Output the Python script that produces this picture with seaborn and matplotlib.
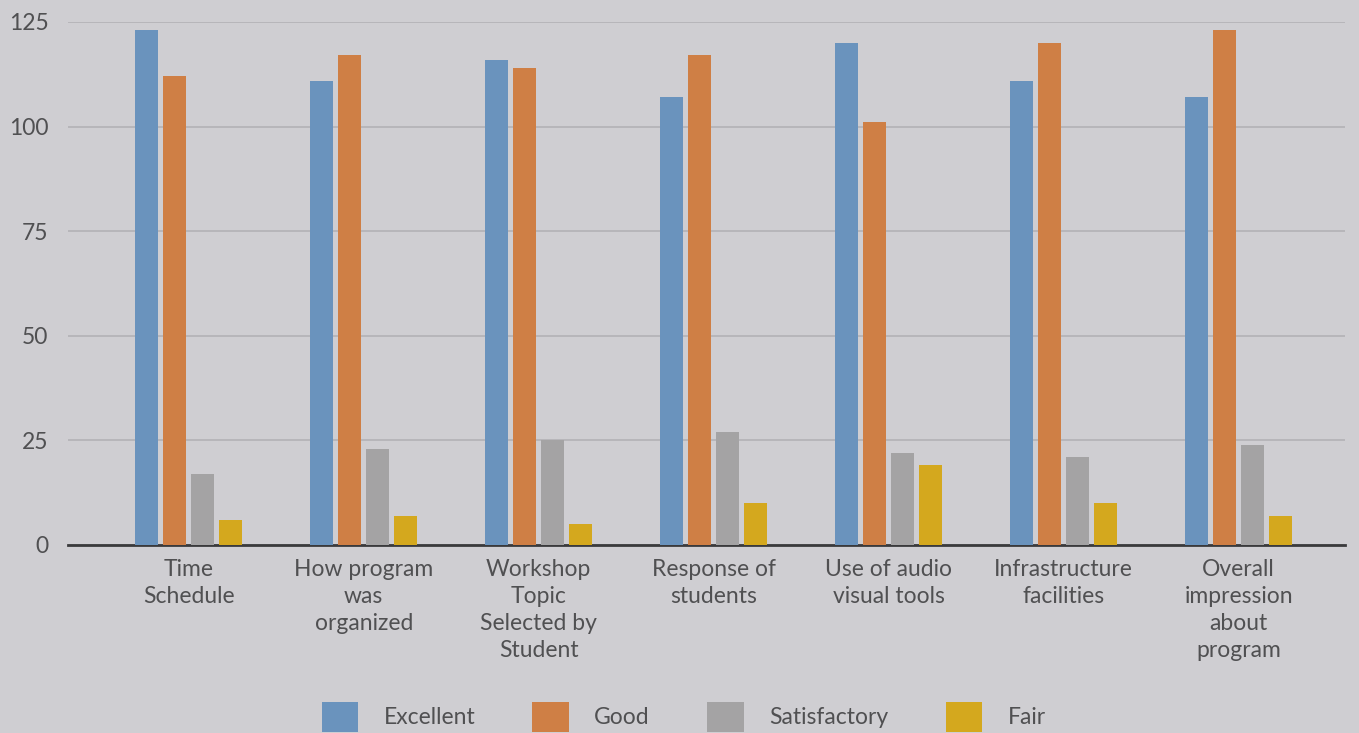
import matplotlib
matplotlib.use("Agg")
import matplotlib.pyplot as plt
import seaborn as sns
import pandas as pd

# Feedback counts per workshop aspect
categories = [
    "Time\nSchedule",
    "How program\nwas\norganized",
    "Workshop\nTopic\nSelected by\nStudent",
    "Response of\nstudents",
    "Use of audio\nvisual tools",
    "Infrastructure\nfacilities",
    "Overall\nimpression\nabout\nprogram",
]
excellent = [123, 111, 116, 107, 120, 111, 107]
good = [112, 117, 114, 117, 101, 120, 123]
satisfactory = [17, 23, 25, 27, 22, 21, 24]
fair = [6, 7, 5, 10, 19, 10, 7]
ratings = ["Excellent", "Good", "Satisfactory", "Fair"]
y_ticks = [0, 25, 50, 75, 100, 125]

colors = ["#6a93bd", "#cf7f45", "#a4a3a4", "#d4a81e"]
bg = "#cfced2"
text_col = "#505052"

df = pd.DataFrame({
    "category": categories * 4,
    "rating": [r for r in ratings for _ in categories],
    "value": excellent + good + satisfactory + fair,
})

sns.set_style("white")
plt.rcParams["font.family"] = ["Lato", "DejaVu Sans"]

fig = plt.figure(figsize=(13.59, 7.33), dpi=100, facecolor=bg)
ax = fig.add_axes([0.05, 0.2565, 0.94, 0.7135])
ax.set_facecolor(bg)

sns.barplot(data=df, x="category", y="value", hue="rating",
            hue_order=ratings, order=categories, palette=colors,
            width=0.64, gap=0.2, saturation=1, linewidth=0,
            ax=ax, zorder=3)

ax.set_ylim(0, 125)
ax.set_xlim(-0.69, 6.61)
ax.set_yticks(y_ticks)
ax.yaxis.grid(True, color="#b3b2b6", linewidth=1.2, zorder=0)
ax.set_xlabel("")
ax.set_ylabel("")
for side in ["top", "right", "left"]:
    ax.spines[side].set_visible(False)
ax.spines["bottom"].set_color("#3a3a3c")
ax.spines["bottom"].set_linewidth(2)
ax.tick_params(axis="both", length=0, labelsize=16.5, colors=text_col)
ax.tick_params(axis="x", pad=10)
ax.tick_params(axis="y", pad=14)
for lbl in ax.get_xticklabels():
    lbl.set_linespacing(1.35)
    lbl.set_verticalalignment("top")

handles, labels = ax.get_legend_handles_labels()
ax.legend_.remove()
fig.legend(handles, labels, loc="center", bbox_to_anchor=(0.503, 0.022),
           ncol=4, frameon=False, fontsize=16.5, labelcolor=text_col,
           handlelength=1.6, handleheight=1.6, handletextpad=1.1,
           columnspacing=2.5)

fig.savefig("out.png", dpi=100, facecolor=bg)
